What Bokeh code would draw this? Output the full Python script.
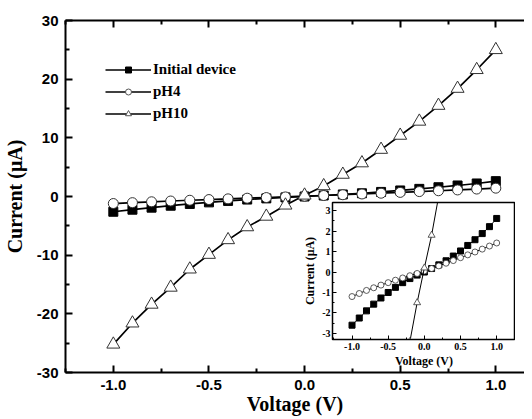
from bokeh.plotting import figure
from bokeh.models import Range1d, FixedTicker, LinearAxis, Legend, LegendItem
from bokeh.layouts import column
from bokeh.embed import file_html
from bokeh.resources import INLINE

# ---- data ----
voltage = [-1.0, -0.9, -0.8, -0.7, -0.6, -0.5, -0.4, -0.3, -0.2, -0.1, 0.0,
           0.1, 0.2, 0.3, 0.4, 0.5, 0.6, 0.7, 0.8, 0.9, 1.0]
initial_device = [-2.6, -2.25, -1.9, -1.57, -1.27, -1.0, -0.75, -0.52, -0.32, -0.15, 0.0,
                  0.17, 0.35, 0.55, 0.78, 1.03, 1.3, 1.58, 1.88, 2.22, 2.62]
ph4 = [-1.2, -1.05, -0.9, -0.77, -0.64, -0.52, -0.4, -0.29, -0.18, -0.07, 0.05,
       0.17, 0.3, 0.43, 0.56, 0.7, 0.84, 0.98, 1.12, 1.27, 1.42]
ph10 = [-25.2, -21.6, -18.4, -15.5, -12.4, -9.9, -7.4, -5.2, -3.4, -1.5, 0.2,
        1.8, 3.75, 5.7, 8.0, 10.4, 12.8, 15.5, 18.4, 21.6, 25.0]

series_labels = ["Initial device", "pH4", "pH10"]

x_ticks = [-1.0, -0.5, 0.0, 0.5, 1.0]
x_tick_labels = ["-1.0", "-0.5", "0.0", "0.5", "1.0"]
x_minor = [-1.25, -0.75, -0.25, 0.25, 0.75]
y_ticks = [-30, -20, -10, 0, 10, 20, 30]
y_tick_labels = ["-30", "-20", "-10", "0", "10", "20", "30"]
y_minor = [-25, -15, -5, 5, 15, 25]

inset_x_ticks = [-1.0, -0.5, 0.0, 0.5, 1.0]
inset_x_tick_labels = ["-1.0", "-0.5", "0.0", "0.5", "1.0"]
inset_x_minor = [-1.25, -0.75, -0.25, 0.25, 0.75, 1.25]
inset_y_ticks = [-3, -2, -1, 0, 1, 2, 3]
inset_y_tick_labels = ["-3", "-2", "-1", "0", "1", "2", "3"]
inset_y_minor = [-2.5, -1.5, -0.5, 0.5, 1.5, 2.5]

# a single not-a-number point: keeps the legend keys drawable without a visible mark
legend_key_point = [float("nan")]

SERIF = "Liberation Serif"
SANS = "Liberation Sans"


def style_axis(ax, tick_font, tick_size, lw, tin, minin):
    ax.axis_line_width = lw
    ax.axis_line_color = "black"
    ax.major_tick_in = tin
    ax.major_tick_out = 0
    ax.minor_tick_in = minin
    ax.minor_tick_out = 0
    ax.major_tick_line_width = lw
    ax.minor_tick_line_width = lw
    ax.major_tick_line_color = "black"
    ax.minor_tick_line_color = "black"
    ax.major_label_text_font = tick_font
    ax.major_label_text_font_style = "bold"
    ax.major_label_text_font_size = tick_size
    ax.major_label_text_color = "black"


# ---- main figure ----
p = figure(width=524, height=417, x_range=Range1d(-1.25, 1.15), y_range=Range1d(-30, 30),
           output_backend="svg", toolbar_location=None,
           min_border_left=65, min_border_right=0, min_border_top=20, min_border_bottom=45)
p.grid.visible = False
p.outline_line_color = None
p.background_fill_color = "white"
p.border_fill_color = "white"

p.xaxis.ticker = FixedTicker(ticks=x_ticks, minor_ticks=x_minor)
p.yaxis.ticker = FixedTicker(ticks=y_ticks, minor_ticks=y_minor)
p.xaxis.major_label_overrides = dict(zip(x_ticks, x_tick_labels))
p.yaxis.major_label_overrides = dict(zip(y_ticks, y_tick_labels))
for ax in (p.xaxis[0], p.yaxis[0]):
    style_axis(ax, SANS, "15px", 2, 7, 4)
    ax.axis_label_text_font = SERIF
    ax.axis_label_text_font_style = "bold"
    ax.axis_label_text_font_size = "20px"
    ax.axis_label_text_color = "black"
p.xaxis.axis_label = "Voltage (V)"
p.yaxis.axis_label = "Current (μA)"
p.xaxis.major_label_standoff = 7
p.xaxis.axis_label_standoff = 0
p.yaxis.major_label_standoff = 7
p.yaxis.axis_label_standoff = 8

top = LinearAxis(ticker=FixedTicker(ticks=x_ticks, minor_ticks=x_minor))
style_axis(top, SANS, "1px", 2, 7, 4)
top.major_label_text_color = None
top.major_label_standoff = 0
p.add_layout(top, "above")

p.line(voltage, initial_device, line_color="black", line_width=1.7)
p.scatter(voltage, initial_device, marker="square", size=9, fill_color="black", line_color="black")
p.line(voltage, ph4, line_color="black", line_width=1.7)
p.scatter(voltage, ph4, marker="circle", size=10, fill_color="white", line_color="#333333", line_width=1)
p.line(voltage, ph10, line_color="black", line_width=1.7)
p.scatter(voltage, ph10, marker="triangle", size=13, fill_color="white", line_color="#333333", line_width=1)

# legend-only renderers (smaller key markers)
kl1 = p.line(legend_key_point, legend_key_point, line_color="black", line_width=1.3)
ks1 = p.scatter(legend_key_point, legend_key_point, marker="square", size=6, fill_color="black", line_color="black")
kl2 = p.line(legend_key_point, legend_key_point, line_color="black", line_width=1.3)
ks2 = p.scatter(legend_key_point, legend_key_point, marker="circle", size=7, fill_color="white", line_color="#555555")
kl3 = p.line(legend_key_point, legend_key_point, line_color="black", line_width=1.3)
ks3 = p.scatter(legend_key_point, legend_key_point, marker="triangle", size=9, fill_color="white", line_color="#555555")

legend = Legend(items=[
    LegendItem(label=series_labels[0], renderers=[kl1, ks1]),
    LegendItem(label=series_labels[1], renderers=[kl2, ks2]),
    LegendItem(label=series_labels[2], renderers=[kl3, ks3]),
], location="top_left")
legend.margin = 37
legend.padding = 3
legend.spacing = 4
legend.glyph_width = 46
legend.glyph_height = 15
legend.label_height = 18
legend.label_standoff = 2
legend.border_line_alpha = 0
legend.background_fill_alpha = 0
legend.label_text_font = SERIF
legend.label_text_font_style = "bold"
legend.label_text_font_size = "15px"
legend.label_text_color = "black"
p.add_layout(legend)

# ---- inset figure ----
ins = figure(width=248, height=170, x_range=Range1d(-1.27, 1.26), y_range=Range1d(-3.3, 3.4),
             output_backend="svg", toolbar_location=None,
             min_border_left=65, min_border_right=0, min_border_top=2, min_border_bottom=30)
ins.grid.visible = False
ins.outline_line_color = "black"
ins.outline_line_width = 1.5
ins.background_fill_color = "white"
ins.border_fill_color = None
ins.xaxis.ticker = FixedTicker(ticks=inset_x_ticks, minor_ticks=inset_x_minor)
ins.yaxis.ticker = FixedTicker(ticks=inset_y_ticks, minor_ticks=inset_y_minor)
ins.xaxis.major_label_overrides = dict(zip(inset_x_ticks, inset_x_tick_labels))
ins.yaxis.major_label_overrides = dict(zip(inset_y_ticks, inset_y_tick_labels))
for ax in (ins.xaxis[0], ins.yaxis[0]):
    style_axis(ax, SERIF, "10px", 1, 4, 2)
    ax.axis_label_text_font = SERIF
    ax.axis_label_text_font_style = "bold"
    ax.axis_label_text_font_size = "12px"
    ax.axis_label_text_color = "black"
ins.xaxis.axis_label = "Voltage (V)"
ins.yaxis.axis_label = "Current (μA)"
ins.xaxis.major_label_standoff = 3
ins.xaxis.axis_label_standoff = 1
ins.yaxis.major_label_standoff = 2
ins.yaxis.axis_label_standoff = 2

ins.line(voltage, initial_device, line_color="black", line_width=1)
ins.scatter(voltage, initial_device, marker="square", size=6, fill_color="black", line_color="black")
ins.line(voltage, ph4, line_color="black", line_width=1)
ins.scatter(voltage, ph4, marker="circle", size=6, fill_color="white", line_color="#333333", line_width=0.8)
ins.line(voltage, ph10, line_color="black", line_width=1)
ins.scatter(voltage, ph10, marker="triangle", size=7, fill_color="white", line_color="#333333", line_width=0.8)

ins.styles = {"position": "absolute", "left": "267px", "top": "200px", "z-index": "10"}

layout = column(p, ins, styles={"position": "relative"})

open("out.html", "w").write(file_html(layout, INLINE))
